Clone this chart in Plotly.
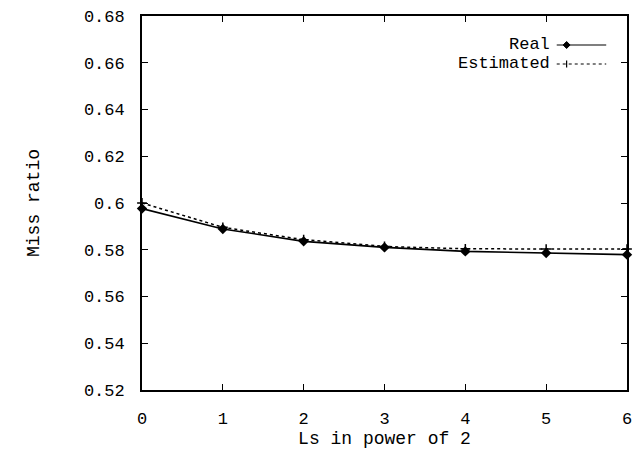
import plotly.graph_objects as go

x_vals = [0, 1, 2, 3, 4, 5, 6]
real = [0.5976, 0.5889, 0.5836, 0.5810, 0.5793, 0.5786, 0.5779]
estimated = [0.6000, 0.5896, 0.5843, 0.5814, 0.5804, 0.5803, 0.5803]
y_ticks = [0.52, 0.54, 0.56, 0.58, 0.6, 0.62, 0.64, 0.66, 0.68]
y_labels = ["0.52", "0.54", "0.56", "0.58", "0.6", "0.62", "0.64", "0.66", "0.68"]
legend_names = ["Real", "Estimated"]

FONT = "Liberation Mono"
FS = 17

fig = go.Figure()
fig.add_trace(go.Scatter(x=x_vals, y=real, mode="lines+markers", name=legend_names[0],
                         line=dict(color="black", width=1.6),
                         marker=dict(symbol="diamond", size=8, color="black"),
                         cliponaxis=False))
fig.add_trace(go.Scatter(x=x_vals, y=estimated, mode="lines+markers", name=legend_names[1],
                         line=dict(color="black", width=1.5, dash="dot"),
                         marker=dict(symbol="cross-thin", size=7, color="black",
                                     line=dict(color="black", width=1.5)),
                         cliponaxis=False))

# legend drawn manually (text left of sample)
L, R = 142, 632
T, B = 16, 390
W, H = 634, 453

def px(xp):
    return (xp - L) / (R - L)

def py(yp):
    return (B - yp) / (B - T)

annotations = []
shapes = []
for i, name in enumerate(legend_names):
    yy = 45 + i * 19
    annotations.append(dict(x=px(556), y=py(yy), xref="paper", yref="paper", text=name,
                            showarrow=False, xanchor="right", yanchor="middle",
                            font=dict(family=FONT, size=FS, color="black")))
    shapes.append(dict(type="line", xref="paper", yref="paper",
                       x0=px(561), x1=px(611), y0=py(yy), y1=py(yy),
                       line=dict(color="black", width=1.2, dash="solid" if i == 0 else "dot")))
    cx, cy = px(571), py(yy)
    dx, dy = 3.5 / (R - L), 3.5 / (B - T)
    if i == 0:
        shapes.append(dict(type="path", xref="paper", yref="paper",
                           path=f"M {cx-dx} {cy} L {cx} {cy+dy} L {cx+dx} {cy} L {cx} {cy-dy} Z",
                           fillcolor="black", line=dict(color="black", width=1)))
    else:
        shapes.append(dict(type="line", xref="paper", yref="paper",
                           x0=cx, x1=cx, y0=cy - dy, y1=cy + dy,
                           line=dict(color="black", width=1.2)))

fig.update_layout(
    width=W, height=H,
    margin=dict(l=L, r=W - R, t=T, b=H - B),
    paper_bgcolor="white", plot_bgcolor="white",
    showlegend=False,
    font=dict(family=FONT, size=FS, color="black"),
    annotations=annotations,
    shapes=shapes,
    xaxis=dict(range=[0, 6.0001], tickvals=x_vals, ticks="inside", ticklen=6,
               tickcolor="black", showline=True, linecolor="black", linewidth=1.8,
               mirror="ticks", showgrid=False, zeroline=False,
               ticklabelstandoff=12, ticklabeloverflow="allow",
               title=dict(text="Ls in power of 2", standoff=2,
                          font=dict(family=FONT, size=18)),
               tickfont=dict(family=FONT, size=FS)),
    yaxis=dict(range=[0.52, 0.68], tickvals=y_ticks, ticktext=y_labels, ticks="inside",
               ticklen=6, tickcolor="black", showline=True, linecolor="black",
               linewidth=1.8, mirror="ticks", showgrid=False, zeroline=False,
               ticklabelstandoff=12,
               title=dict(text="Miss ratio", standoff=40,
                          font=dict(family=FONT, size=18)),
               tickfont=dict(family=FONT, size=FS)),
)

fig.write_html("out.html")
